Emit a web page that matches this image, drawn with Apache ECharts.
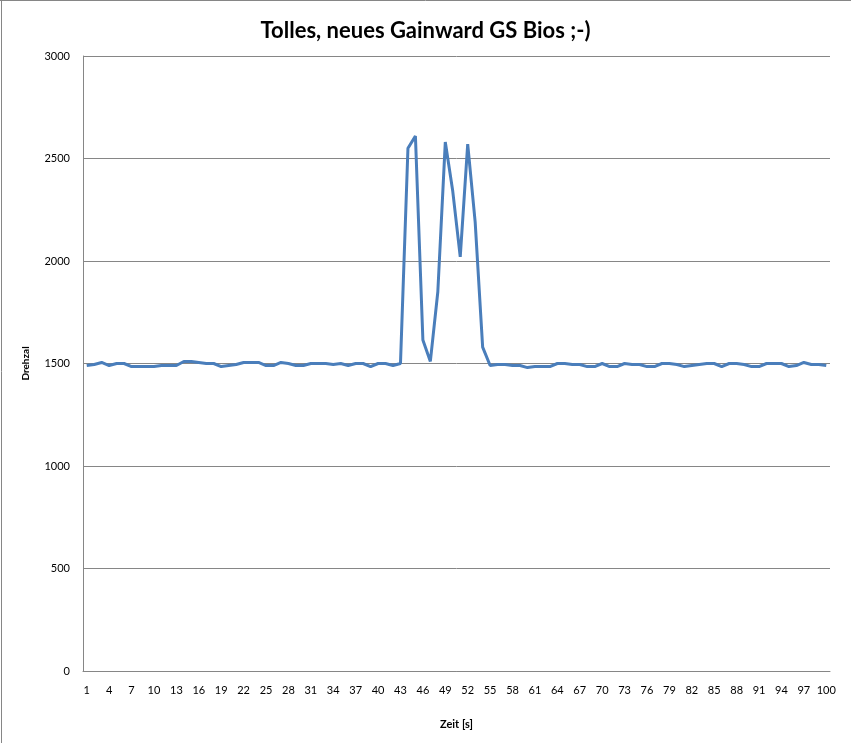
<!DOCTYPE html>
<html>
<head>
<meta charset="utf-8">
<script src="https://cdn.jsdelivr.net/npm/echarts@6/dist/echarts.min.js"></script>
<style>
html,body{margin:0;padding:0;background:#fff;}
#c{width:851px;height:743px;}
</style>
</head>
<body>
<div id="c"></div>
<script>
const titleText = 'Tolles, neues Gainward GS Bios ;-)';
const xName = 'Zeit [s]';
const yName = 'Drehzal';
const categories = [];
for (let i = 1; i <= 100; i++) categories.push(String(i));
const drehzahl = [
  1490, 1495, 1505, 1490, 1500, 1500, 1485, 1485, 1485, 1485,
  1490, 1490, 1490, 1510, 1510, 1505, 1500, 1500, 1485, 1490,
  1495, 1505, 1505, 1505, 1490, 1490, 1505, 1500, 1490, 1490,
  1500, 1500, 1500, 1495, 1500, 1490, 1500, 1500, 1485, 1500,
  1500, 1490, 1500, 2550, 2610, 1615, 1510, 1850, 2580, 2340,
  2020, 2570, 2190, 1580, 1490, 1495, 1495, 1490, 1490, 1480,
  1485, 1485, 1485, 1500, 1500, 1495, 1495, 1485, 1485, 1500,
  1485, 1485, 1500, 1495, 1495, 1485, 1485, 1500, 1500, 1495,
  1485, 1490, 1495, 1500, 1500, 1485, 1500, 1500, 1495, 1485,
  1485, 1500, 1500, 1500, 1485, 1490, 1505, 1495, 1495, 1490
];
const yMin = 0, yMax = 3000, yStep = 500;

const font = 'Lato, "Open Sans", sans-serif';
const chart = echarts.init(document.getElementById('c'), null, {renderer: 'canvas'});
chart.setOption({
  animation: false,
  backgroundColor: '#fff',
  title: {
    text: titleText,
    left: 'center',
    top: 15,
    textStyle: {fontFamily: font, fontWeight: 'bold', fontSize: 22, color: '#000'}
  },
  grid: {left: 83, right: 21, top: 56, bottom: 72, containLabel: false},
  xAxis: {
    type: 'category',
    data: categories,
    boundaryGap: true,
    name: xName,
    nameLocation: 'middle',
    nameGap: 48,
    nameTextStyle: {fontFamily: font, fontWeight: 'bold', fontSize: 11, color: '#000'},
    axisLine: {lineStyle: {color: '#868686', width: 1}},
    axisTick: {show: false},
    axisLabel: {interval: 2, fontFamily: font, fontSize: 11, color: '#000', margin: 14},
    splitLine: {show: false}
  },
  yAxis: {
    type: 'value',
    min: yMin, max: yMax, interval: yStep,
    name: yName,
    nameLocation: 'middle',
    nameGap: 52,
    nameRotate: 90,
    nameTextStyle: {fontFamily: font, fontWeight: 'bold', fontSize: 10, color: '#000'},
    axisLine: {show: true, lineStyle: {color: '#868686', width: 1}},
    axisTick: {show: false},
    axisLabel: {fontFamily: font, fontSize: 11, color: '#000', margin: 13, formatter: v => String(v)},
    splitLine: {lineStyle: {color: '#868686', width: 1}}
  },
  series: [{
    type: 'line',
    data: drehzahl,
    showSymbol: false,
    lineStyle: {color: '#4a7ebb', width: 3},
    itemStyle: {color: '#4a7ebb'}
  }],
  graphic: [
    {type: 'line', shape: {x1: 0, y1: 0.5, x2: 851, y2: 0.5}, style: {stroke: '#868686', lineWidth: 1}},
    {type: 'line', shape: {x1: 1.5, y1: 0, x2: 1.5, y2: 743}, style: {stroke: '#868686', lineWidth: 1}}
  ]
});
</script>
</body>
</html>
